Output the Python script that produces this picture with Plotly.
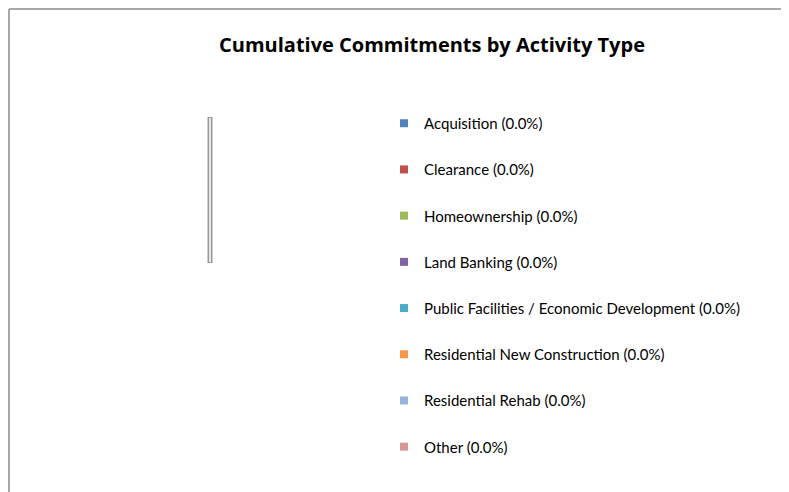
import plotly.graph_objects as go

# Browser page places the figure at an 8px body margin; work in page pixels
OFF = 8
PAGE_W, PAGE_H = 789, 492
W, H = PAGE_W - OFF, PAGE_H - OFF

categories = [
    "Acquisition",
    "Clearance",
    "Homeownership",
    "Land Banking",
    "Public Facilities / Economic Development",
    "Residential New Construction",
    "Residential Rehab",
    "Other",
]
values = [0, 0, 0, 0, 0, 0, 0, 0]
percents = [0.0, 0.0, 0.0, 0.0, 0.0, 0.0, 0.0, 0.0]
colors = ["#4F81BD", "#C0504D", "#9BBB59", "#8064A2",
          "#4BACC6", "#F79646", "#95B3D7", "#D99694"]

fig = go.Figure()

# Legend entries (pie is degenerate: every value is zero)
for i, (cat, val, pct, col) in enumerate(zip(categories, values, percents, colors)):
    fig.add_trace(go.Scatter(
        x=[None], y=[None], mode="markers",
        name=f"{cat} ({pct:.1f}%)",
        legendgroup=f"g{i}",
        marker=dict(symbol="square", size=8, color=col),
        showlegend=True, hoverinfo="skip",
    ))

def px(x):
    return (x - OFF) / W

def py(y):
    return 1 - (y - OFF) / H

# Degenerate pie (all slices zero) rendered by Excel as a single radius line
cx, cy, r = 210, 190, 73
shapes = [
    dict(type="line", xref="paper", yref="paper",
         x0=px(cx), x1=px(cx), y0=py(cy - r), y1=py(cy + r),
         line=dict(color="#9a9a9a", width=5)),
    dict(type="line", xref="paper", yref="paper",
         x0=px(cx), x1=px(cx), y0=py(cy - r + 1), y1=py(cy + r - 1),
         line=dict(color="#ffffff", width=1.5)),
    # chart area border (cropped at right and bottom)
    dict(type="line", xref="paper", yref="paper",
         x0=px(9), x1=1.0, y0=py(9), y1=py(9),
         line=dict(color="#8c8c8c", width=1.5)),
    dict(type="line", xref="paper", yref="paper",
         x0=px(9), x1=px(9), y0=py(9), y1=0.0,
         line=dict(color="#8c8c8c", width=1.5)),
]

fig.update_layout(
    width=W, height=H,
    margin=dict(l=0, r=0, t=0, b=0),
    paper_bgcolor="white", plot_bgcolor="white",
    xaxis=dict(visible=False), yaxis=dict(visible=False),
    shapes=shapes,
    title=dict(text="<b>Cumulative Commitments by Activity Type</b>",
               x=px(432), xanchor="center", y=py(45), yanchor="middle",
               font=dict(family="Open Sans", size=20, color="#000000")),
    legend=dict(
        x=px(384), xanchor="left", y=py(107), yanchor="top",
        font=dict(family="Lato", size=15, color="#000000"),
        tracegroupgap=23.7, bgcolor="rgba(0,0,0,0)",
        itemclick=False, itemdoubleclick=False,
    ),
    font=dict(family="Lato"),
)

fig.write_html("out.html")
